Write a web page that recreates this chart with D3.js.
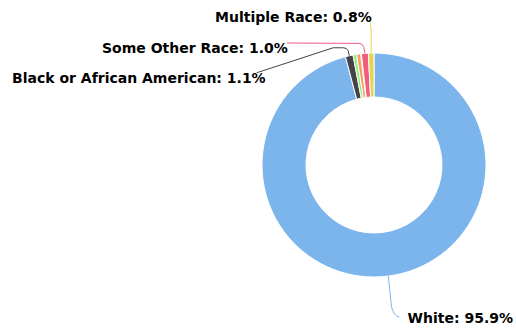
<!DOCTYPE html>
<html>
<head>
<meta charset="utf-8">
<script src="https://cdn.jsdelivr.net/npm/d3@7"></script>
<style>
  html, body { margin: 0; padding: 0; background: #fff; }
  svg { display: block; }
  .label { font-family: "DejaVu Sans", Verdana, sans-serif; font-weight: bold; font-size: 14px; fill: #000; }
</style>
</head>
<body>
<svg id="chart" width="516" height="329"></svg>
<script>
// Population share by race (percent)
const categories = [
  "White",
  "Black or African American",
  "American Indian and Alaska Native",
  "Asian",
  "Native Hawaiian and Other Pacific Islander",
  "Some Other Race",
  "Multiple Race"
];
const values = [95.9, 1.1, 0.5, 0.6, 0.1, 1.0, 0.8];
const colors = ["#7cb5ec", "#434348", "#90ed7d", "#f7a35c", "#8085e9", "#f15c80", "#e4d354"];
// Only these slices get a label
const labelled = ["White", "Black or African American", "Some Other Race", "Multiple Race"];

const width = 516, height = 329;
const cx = 374, cy = 165, outerR = 112, innerR = 68;

const svg = d3.select("#chart");
const g = svg.append("g").attr("transform", `translate(${cx},${cy})`);

const data = categories.map((c, i) => ({ name: c, value: values[i], color: colors[i] }));

const pie = d3.pie().sort(null).value(d => d.value);
const arcs = pie(data);

const arc = d3.arc().innerRadius(innerR).outerRadius(outerR);
const edge = d3.arc().innerRadius(outerR).outerRadius(outerR);

g.selectAll("path.slice")
  .data(arcs)
  .join("path")
  .attr("class", "slice")
  .attr("d", arc)
  .attr("fill", d => d.data.color)
  .attr("stroke", "#fff")
  .attr("stroke-width", 1)
  .attr("stroke-linejoin", "round");

// Label placement: where each label's text sits, and how its connector bends
const labelLayout = {
  "White":                     { x: 513, y: 323, anchor: "end",   bend: p => [[p[0] + 3, p[1] + 30], [p[0] + 5, p[1] + 40], [p[0] + 11, p[1] + 41]] },
  "Black or African American": { x: 12,  y: 83,  anchor: "start", bend: p => [[p[0] - 1, p[1] - 5], [p[0] - 2, p[1] - 8], [p[0] - 6, p[1] - 8], [p[0] - 16, p[1] - 8], [256, 73]] },
  "Some Other Race":           { x: 102, y: 53,  anchor: "start", bend: p => [[p[0] - 1, p[1] - 6], [p[0] - 2, p[1] - 10], [p[0] - 6, p[1] - 10], [287, 43]] },
  "Multiple Race":             { x: 215, y: 22,  anchor: "start", bend: p => [[p[0], p[1] - 21], [p[0] - 0.5, p[1] - 33], [368, 17]] }
};

const shown = arcs.filter(a => labelled.includes(a.data.name));

// Connectors: leave the slice edge, bend round, run out to the label
shown.forEach(a => {
  const c = edge.centroid(a);
  const p = [c[0] + cx, c[1] + cy];
  const pts = [p].concat(labelLayout[a.data.name].bend(p));
  let dStr = `M${pts[0]}L${pts[1]}Q${pts[2]} ${pts[3]}`;
  for (let i = 4; i < pts.length; i++) dStr += `L${pts[i]}`;
  svg.append("path")
    .attr("d", dStr)
    .attr("fill", "none")
    .attr("stroke", a.data.color)
    .attr("stroke-width", 1);
});

shown.forEach(a => {
  const L = labelLayout[a.data.name];
  svg.append("text")
    .attr("class", "label")
    .attr("x", L.x)
    .attr("y", L.y)
    .attr("text-anchor", L.anchor)
    .attr("stroke", "#fff")
    .attr("stroke-width", 2)
    .attr("paint-order", "stroke")
    .attr("stroke-linejoin", "round")
    .text(`${a.data.name}: ${d3.format(".1f")(a.data.value)}%`);
});
</script>
</body>
</html>
